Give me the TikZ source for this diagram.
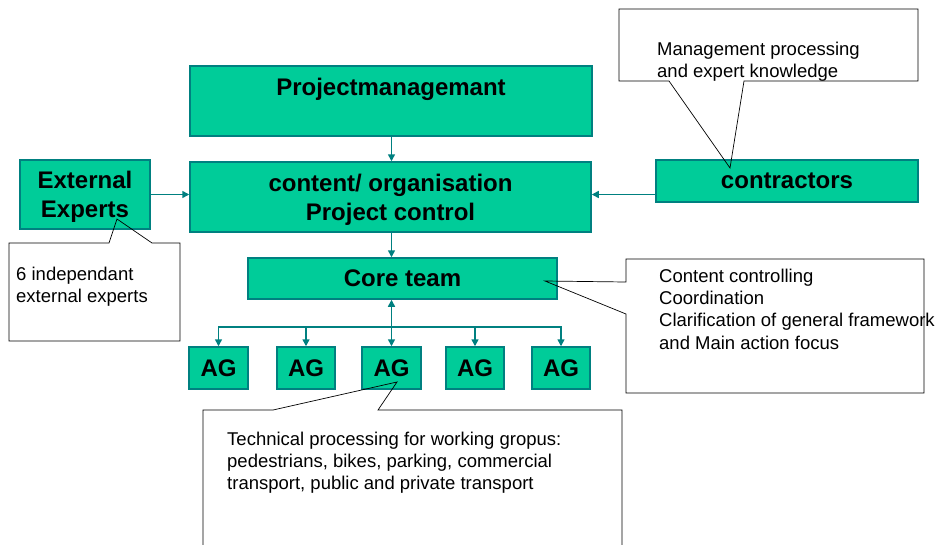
\documentclass[tikz,border=0pt]{standalone}
\usepackage{fontspec}
\setmainfont{Liberation Sans}
\usetikzlibrary{arrows.meta}
\definecolor{boxfill}{RGB}{0,204,153}
\definecolor{boxline}{RGB}{0,128,128}
\definecolor{arrowc}{RGB}{0,128,128}
\tikzset{
  gbox/.style={draw=boxline, fill=boxfill, line width=1.5pt, inner sep=0pt,
    font=\fontsize{24}{29}\selectfont\bfseries, align=center, text depth=0pt},
  btext/.style={font=\fontsize{24}{29}\selectfont\bfseries, inner sep=0pt, text depth=0pt},
  arr/.style={draw=arrowc, line width=1.5pt, -{Triangle[length=7pt,width=7pt]}},
  darr/.style={draw=arrowc, line width=1.5pt, {Triangle[length=7pt,width=7pt]}-{Triangle[length=7pt,width=7pt]}},
  callout/.style={draw=black, line width=0.7pt},
  ctext/.style={font=\fontsize{18.5}{22.3}\selectfont, align=left, inner sep=0pt, anchor=north west}
}
\begin{document}
\begin{tikzpicture}[x=1pt,y=-1pt]
\useasboundingbox (0,0) rectangle (936,544);
\clip (0,0) rectangle (936,544);
% boxes
\node[gbox, minimum width=402pt, minimum height=70pt] (pm) at (391,101) {};
\node[btext] (pmtext) at (391,87) {Projectmanagemant};
\node[gbox, minimum width=401pt, minimum height=70pt] (co) at (390.5,197) {content/ organisation\\Project control};
\node[gbox, minimum width=130pt, minimum height=69pt] (ext) at (85,194.5) {External\\Experts};
\node[gbox, minimum width=262pt, minimum height=42pt] (ctr) at (787,181) {contractors};
\node[gbox, minimum width=309pt, minimum height=41pt] (ct) at (402.5,278.5) {Core team};
\node[gbox, minimum width=59pt, minimum height=42pt] (ag1) at (218.5,368) {AG};
\node[gbox, minimum width=58pt, minimum height=42pt] (ag2) at (306,368) {AG};
\node[gbox, minimum width=59pt, minimum height=42pt] (ag3) at (391.5,368) {AG};
\node[gbox, minimum width=58pt, minimum height=42pt] (ag4) at (475,368) {AG};
\node[gbox, minimum width=58pt, minimum height=42pt] (ag5) at (561,368) {AG};
% connectors
\draw[arr] (pm.south -| ag3) -- (co.north -| ag3);
\draw[arr] (co.south -| ag3) -- (ct.north -| ag3);
\draw[arr] (ext.east) -- (ext.east -| co.west);
\draw[arr] (ctr.west |- ext.east) -- (co.east |- ext.east);
\draw[darr] (ct.south -| ag3) -- (ag3.north);
\coordinate (bus) at (391.5,327);
\draw[arr] (bus) -| (ag1.north);
\draw[arr] (bus) -| (ag2.north);
\draw[arr] (bus) -| (ag4.north);
\draw[arr] (bus) -| (ag5.north);
% callouts
\draw[callout] (9,243) -- (109,243) -- (117,219) -- (152,243) -- (180,243) -- (180,341) -- (9,341) -- cycle;
\node[ctext] (c1) at (16,266.5) {6 independant\\external experts};
\draw[callout] (619,9) -- (918,9) -- (918,81) -- (744,81) -- (730,168) -- (669,81) -- (619,81) -- cycle;
\node[ctext] (c2) at (657,41.5) {Management processing\\and expert knowledge};
\draw[callout] (626,259) -- (924,259) -- (924,393) -- (626,393) -- (626,314) -- (545,281) -- (626,282) -- cycle;
\node[ctext] (c3) at (659,268.5) {Content controlling\\Coordination\\Clarification of general framework\\and Main action focus};
\draw[callout] (203,410) -- (273,410) -- (397,382) -- (378,410) -- (622,410) -- (622,560) -- (203,560) -- cycle;
\node[ctext] (c4) at (227,431.5) {Technical processing for working gropus:\\pedestrians, bikes, parking, commercial\\transport, public and private transport};
\end{tikzpicture}
\end{document}
